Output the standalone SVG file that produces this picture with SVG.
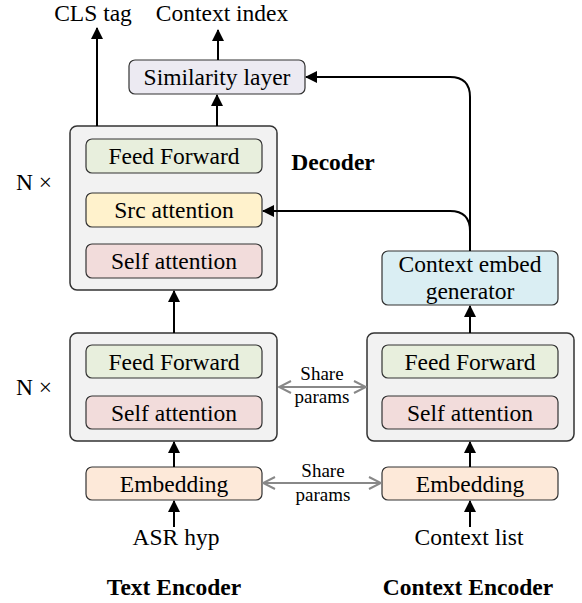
<svg xmlns="http://www.w3.org/2000/svg" width="582" height="603" viewBox="0 0 582 603" font-family="'Liberation Serif', 'Times New Roman', serif">
<defs>
<style>
text{font-family:"Liberation Serif","Times New Roman",serif;font-size:23.5px;fill:#000;text-anchor:middle}
.b{font-weight:bold}
.s{font-size:19px}
.outer{fill:#F2F2F2;stroke:#333;stroke-width:1.5}
.in{stroke:#333;stroke-width:1.2}
.ff{fill:#E8EFDD}
.src{fill:#FFF2CC}
.sa{fill:#F2DCDB}
.emb{fill:#FDE9D9}
.sim{fill:#ECEAF2}
.ceg{fill:#DAEEF3}
.c{fill:none;stroke:#000;stroke-width:2}
.g{fill:none;stroke:#888;stroke-width:2}
</style>
<marker id="ah" viewBox="0 0 12 12" refX="11" refY="6" markerWidth="12" markerHeight="12" markerUnits="userSpaceOnUse" orient="auto">
<path d="M0,0 L12,6 L0,12 z" fill="#000"/>
</marker>
<marker id="gh" viewBox="0 0 14 14" refX="13" refY="7" markerWidth="14" markerHeight="14" markerUnits="userSpaceOnUse" orient="auto-start-reverse">
<path d="M1,1 L13,7 L1,13" fill="none" stroke="#888" stroke-width="2"/>
</marker>
</defs>

<g id="labels" font-family="'Liberation Serif', serif">
<text x="93" y="21">CLS tag</text>
<text x="222" y="21">Context index</text>
<text x="34" y="190">N ×</text>
<text x="34" y="395">N ×</text>
<text x="333" y="170" class="b">Decoder</text>
<text x="322" y="380" class="s">Share</text>
<text x="322" y="403" class="s">params</text>
<text x="323" y="477" class="s">Share</text>
<text x="323" y="501" class="s">params</text>
<text x="176" y="545">ASR hyp</text>
<text x="469" y="545">Context list</text>
<text x="174" y="595" class="b">Text Encoder</text>
<text x="468" y="595" class="b">Context Encoder</text>
</g>

<g id="similarity">
<rect x="129" y="60" width="176" height="34" rx="6" class="in sim"/>
<text x="217" y="85">Similarity layer</text>
</g>

<g id="decoder">
<rect x="70" y="126" width="207" height="164" rx="7" class="outer"/>
<g id="dec-ff">
<rect x="86" y="139" width="176" height="34" rx="6" class="in ff"/>
<text x="174" y="164">Feed Forward</text>
</g>
<g id="dec-src">
<rect x="86" y="193" width="176" height="34" rx="6" class="in src"/>
<text x="174" y="218">Src attention</text>
</g>
<g id="dec-sa">
<rect x="86" y="244" width="176" height="34" rx="6" class="in sa"/>
<text x="174" y="269">Self attention</text>
</g>
</g>

<g id="context-embed-generator">
<rect x="382" y="251" width="176" height="54" rx="6" class="in ceg"/>
<text x="470" y="272">Context embed</text>
<text x="470" y="299">generator</text>
</g>

<g id="text-encoder">
<rect x="70" y="333" width="207" height="108" rx="7" class="outer"/>
<g id="te-ff">
<rect x="86" y="345" width="176" height="33" rx="6" class="in ff"/>
<text x="174" y="370">Feed Forward</text>
</g>
<g id="te-sa">
<rect x="86" y="396" width="176" height="33" rx="6" class="in sa"/>
<text x="174" y="421">Self attention</text>
</g>
</g>

<g id="context-encoder">
<rect x="367" y="333" width="207" height="108" rx="7" class="outer"/>
<g id="ce-ff">
<rect x="382" y="345" width="176" height="33" rx="6" class="in ff"/>
<text x="470" y="370">Feed Forward</text>
</g>
<g id="ce-sa">
<rect x="382" y="396" width="176" height="33" rx="6" class="in sa"/>
<text x="470" y="421">Self attention</text>
</g>
</g>

<g id="te-embedding">
<rect x="86" y="467" width="176" height="33" rx="6" class="in emb"/>
<text x="174" y="492">Embedding</text>
</g>

<g id="ce-embedding">
<rect x="382" y="467" width="176" height="33" rx="6" class="in emb"/>
<text x="470" y="492">Embedding</text>
</g>

<g id="connectors">
<path class="c" d="M97,126 V28" marker-end="url(#ah)"/>
<path class="c" d="M218,60 V30" marker-end="url(#ah)"/>
<path class="c" d="M217,126 V95" marker-end="url(#ah)"/>
<path class="c" d="M470,251 V97 Q470,77 450,77 H306" marker-end="url(#ah)"/>
<path class="c" d="M470,231 Q470,211 450,211 H263" marker-end="url(#ah)"/>
<path class="c" d="M174,333 V291" marker-end="url(#ah)"/>
<path class="c" d="M470,333 V306" marker-end="url(#ah)"/>
<path class="c" d="M174,467 V442" marker-end="url(#ah)"/>
<path class="c" d="M470,467 V442" marker-end="url(#ah)"/>
<path class="c" d="M174,527 V501" marker-end="url(#ah)"/>
<path class="c" d="M470,527 V501" marker-end="url(#ah)"/>
<path class="g" d="M279,387 H366" marker-start="url(#gh)" marker-end="url(#gh)"/>
<path class="g" d="M263,483 H381" marker-start="url(#gh)" marker-end="url(#gh)"/>
</g>
</svg>
